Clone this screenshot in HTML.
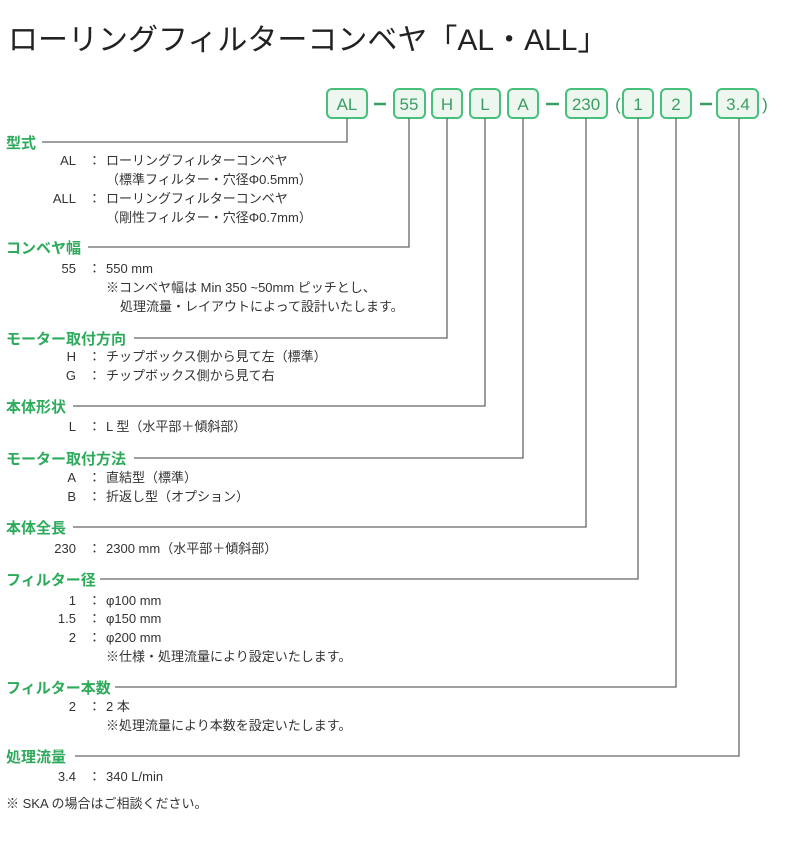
<!DOCTYPE html>
<html><head><meta charset="utf-8"><style>
html,body{margin:0;padding:0;background:#fff;}
svg text{font-family:"Liberation Sans","Noto Sans CJK JP",sans-serif;}
.h{fill:#2eaa5c;font-size:15px;font-weight:bold;}
.t{fill:#333;font-size:13px;}
.r{text-anchor:end;}
.b{fill:#3a9e62;font-size:17px;text-anchor:middle;}
</style></head><body>
<svg width="800" height="836" viewBox="0 0 800 836" xmlns="http://www.w3.org/2000/svg">
<text x="8" y="50" font-size="30" fill="#222">ローリングフィルターコンベヤ「AL・ALL」</text>
<g fill="#eef7ef" stroke="#46c07a" stroke-width="2">
<rect x="327" y="89" width="40" height="29" rx="5"/>
<rect x="394" y="89" width="31" height="29" rx="5"/>
<rect x="432" y="89" width="30" height="29" rx="5"/>
<rect x="470" y="89" width="30" height="29" rx="5"/>
<rect x="508" y="89" width="30" height="29" rx="5"/>
<rect x="566" y="89" width="41" height="29" rx="5"/>
<rect x="623" y="89" width="30" height="29" rx="5"/>
<rect x="661" y="89" width="30" height="29" rx="5"/>
<rect x="717" y="89" width="41" height="29" rx="5"/>
</g>
<g class="b">
<text x="347" y="110" class="b">AL</text>
<text x="409" y="110" class="b">55</text>
<text x="447" y="110" class="b">H</text>
<text x="485" y="110" class="b">L</text>
<text x="523" y="110" class="b">A</text>
<text x="586" y="110" class="b">230</text>
<text x="638" y="110" class="b">1</text>
<text x="676" y="110" class="b">2</text>
<text x="738" y="110" class="b">3.4</text>
<text x="618" y="110" class="b">(</text>
<text x="765" y="110" class="b">)</text>
</g>
<g stroke="#3a9e62" stroke-width="2.5">
<line x1="374" y1="104" x2="386" y2="104"/>
<line x1="546" y1="104" x2="559" y2="104"/>
<line x1="700" y1="104" x2="712" y2="104"/>
</g>
<g stroke="#666" stroke-width="1.3" fill="none">
<polyline points="42,142 347,142 347,118"/>
<polyline points="88,247 409,247 409,118"/>
<polyline points="134,338 447,338 447,118"/>
<polyline points="73,406 485,406 485,118"/>
<polyline points="134,458 523,458 523,118"/>
<polyline points="73,527 586,527 586,118"/>
<polyline points="100,579 638,579 638,118"/>
<polyline points="115,687 676,687 676,118"/>
<polyline points="75,756 739,756 739,118"/>
</g>
<text x="6" y="148" class="h">型式</text>
<text x="6" y="253" class="h">コンベヤ幅</text>
<text x="6" y="344" class="h">モーター取付方向</text>
<text x="6" y="412" class="h">本体形状</text>
<text x="6" y="464" class="h">モーター取付方法</text>
<text x="6" y="533" class="h">本体全長</text>
<text x="6" y="585" class="h">フィルター径</text>
<text x="6" y="693" class="h">フィルター本数</text>
<text x="6" y="762" class="h">処理流量</text>
<g class="t">
<text x="76" y="165" class="t r">AL</text><text x="88" y="165" class="t">：</text><text x="106" y="165" class="t">ローリングフィルターコンベヤ</text>
<text x="106" y="184" class="t">（標準フィルター・穴径Φ0.5mm）</text>
<text x="76" y="203" class="t r">ALL</text><text x="88" y="203" class="t">：</text><text x="106" y="203" class="t">ローリングフィルターコンベヤ</text>
<text x="106" y="222" class="t">（剛性フィルター・穴径Φ0.7mm）</text>
<text x="76" y="273" class="t r">55</text><text x="88" y="273" class="t">：</text><text x="106" y="273" class="t">550 mm</text>
<text x="106" y="292" class="t">※コンベヤ幅は Min 350 ~50mm ピッチとし、</text>
<text x="120" y="311" class="t">処理流量・レイアウトによって設計いたします。</text>
<text x="76" y="361" class="t r">H</text><text x="88" y="361" class="t">：</text><text x="106" y="361" class="t">チップボックス側から見て左（標準）</text>
<text x="76" y="380" class="t r">G</text><text x="88" y="380" class="t">：</text><text x="106" y="380" class="t">チップボックス側から見て右</text>
<text x="76" y="431" class="t r">L</text><text x="88" y="431" class="t">：</text><text x="106" y="431" class="t">L 型（水平部＋傾斜部）</text>
<text x="76" y="482" class="t r">A</text><text x="88" y="482" class="t">：</text><text x="106" y="482" class="t">直結型（標準）</text>
<text x="76" y="501" class="t r">B</text><text x="88" y="501" class="t">：</text><text x="106" y="501" class="t">折返し型（オプション）</text>
<text x="76" y="553" class="t r">230</text><text x="88" y="553" class="t">：</text><text x="106" y="553" class="t">2300 mm（水平部＋傾斜部）</text>
<text x="76" y="605" class="t r">1</text><text x="88" y="605" class="t">：</text><text x="106" y="605" class="t">φ100 mm</text>
<text x="76" y="623" class="t r">1.5</text><text x="88" y="623" class="t">：</text><text x="106" y="623" class="t">φ150 mm</text>
<text x="76" y="642" class="t r">2</text><text x="88" y="642" class="t">：</text><text x="106" y="642" class="t">φ200 mm</text>
<text x="106" y="661" class="t">※仕様・処理流量により設定いたします。</text>
<text x="76" y="711" class="t r">2</text><text x="88" y="711" class="t">：</text><text x="106" y="711" class="t">2 本</text>
<text x="106" y="730" class="t">※処理流量により本数を設定いたします。</text>
<text x="76" y="781" class="t r">3.4</text><text x="88" y="781" class="t">：</text><text x="106" y="781" class="t">340 L/min</text>
<text x="6" y="808" class="t" font-size="11">※ SKA の場合はご相談ください。</text>
</g>
</svg>
</body></html>
